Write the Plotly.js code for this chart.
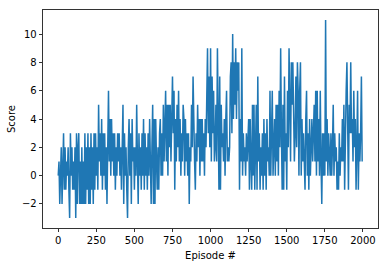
<!DOCTYPE html>
<html>
<head>
<meta charset="utf-8">
<script src="https://cdn.plot.ly/plotly-3.0.1.min.js"></script>
<style>html,body{margin:0;padding:0;background:#fff;}#chart{width:388px;height:266px;}</style>
</head>
<body>
<div id="chart"></div>
<script>
const episodeStep = 5;
const scores = [
  0,1,-2,1,2,-2,0,3,-1,2,
  -1,1,0,2,-1,-3,3,0,2,-1,
  1,-1,2,-3,3,-2,2,3,-2,1,
  -2,2,-2,1,-2,3,-2,2,-1,3,
  -2,2,-2,3,-1,2,-2,3,-1,3,
  0,2,-1,5,1,3,0,4,-1,3,
  0,3,-1,2,-2,3,6,1,4,0,
  4,1,3,0,3,-1,2,0,3,1,
  3,0,2,-1,3,5,-2,3,0,2,
  -1,-3,2,4,0,3,-2,4,1,2,
  -1,2,0,5,1,-2,3,0,2,-1,
  3,0,4,-1,3,0,2,-1,3,0,
  4,1,-2,2,5,-2,4,-2,4,1,
  -1,2,-1,3,4,0,3,0,5,1,
  5,6,1,5,0,5,2,5,1,6,
  7,3,6,-1,4,1,5,2,6,1,
  4,0,3,1,5,4,0,4,1,3,
  0,3,-2,2,1,5,2,7,3,1,
  -1,3,1,5,2,4,0,4,1,4,
  1,3,0,4,2,5,9,3,7,2,
  9,1,7,3,6,1,2,5,1,9,
  2,-1,7,-1,5,2,3,1,4,0,
  4,6,1,2,1,2,7,8,3,10,
  4,8,5,9,4,8,6,8,-1,4,
  1,9,0,3,1,2,0,3,1,3,
  4,-1,4,1,-1,5,0,5,-1,2,
  5,-1,7,1,3,-1,2,0,3,-1,
  4,0,3,-1,4,1,2,0,6,0,
  3,6,0,2,4,0,5,1,5,0,
  6,2,9,3,-1,5,-1,7,1,3,
  -1,6,2,9,4,1,8,5,8,3,
  1,3,7,2,8,6,0,6,8,0,
  4,1,3,1,-1,4,6,0,3,-1,
  4,0,2,4,1,3,5,1,6,0,
  6,1,4,0,6,1,-2,3,0,3,
  0,11,1,4,0,3,1,0,3,0,
  2,5,0,3,1,2,-1,1,-1,3,
  0,2,1,4,1,5,-1,4,6,8,
  1,-1,5,3,8,3,4,1,6,2,
  4,-1,2,6,-1,3,1,3,7,1
];
const episodes = scores.map((_, i) => i * episodeStep);

const xTickVals = [0,250,500,750,1000,1250,1500,1750,2000];
const xTickText = ['0','250','500','750','1000','1250','1500','1750','2000'];
const yTickVals = [-2,0,2,4,6,8,10];
const yTickText = ['\u22122','0','2','4','6','8','10'];

const font = {family: 'DejaVu Sans, sans-serif', size: 10, color: '#000'};

const trace = {
  x: episodes, y: scores, type: 'scatter', mode: 'lines',
  line: {color: '#1f77b4', width: 1.5},
  hoverinfo: 'skip'
};

const axisCommon = {
  showgrid: false, zeroline: false,
  showline: true, mirror: true, linecolor: '#000', linewidth: 0.8,
  ticks: 'outside', ticklen: 3.5, tickwidth: 0.8, tickcolor: '#000',
  tickfont: font, tickmode: 'array'
};

const layout = {
  width: 388, height: 266,
  margin: {l: 43, r: 10, t: 10, b: 38},
  paper_bgcolor: '#fff', plot_bgcolor: '#fff',
  showlegend: false,
  font: font,
  xaxis: Object.assign({}, axisCommon, {
    range: [-99.95, 2098.95], tickvals: xTickVals, ticktext: xTickText,
    title: {text: 'Episode #', font: font, standoff: 6}
  }),
  yaxis: Object.assign({}, axisCommon, {
    range: [-3.7, 11.7], tickvals: yTickVals, ticktext: yTickText,
    title: {text: 'Score', font: font, standoff: 4}
  })
};

Plotly.newPlot('chart', [trace], layout, {staticPlot: true, displayModeBar: false});
</script>
</body>
</html>
